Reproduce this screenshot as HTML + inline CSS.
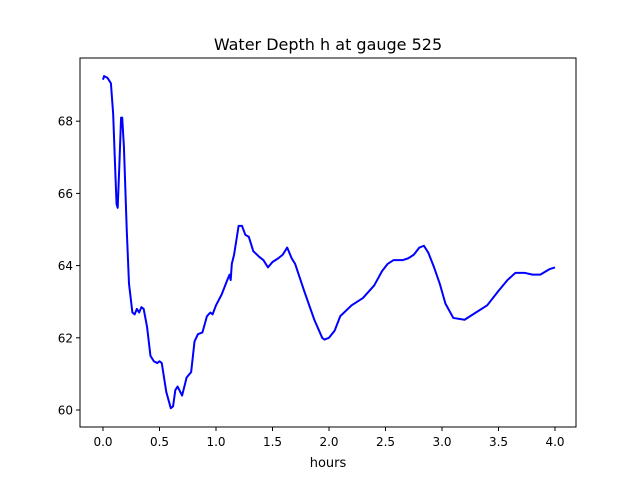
<!DOCTYPE html>
<html><head><meta charset="utf-8"><style>body{margin:0;background:#fff}svg{display:block;font-family:"DejaVu Sans","Liberation Sans",sans-serif}</style></head>
<body>
<svg id="chart" width="640" height="480" xmlns="http://www.w3.org/2000/svg">
<rect width="640" height="480" fill="#fff"/>
<text x="328" y="50" font-size="16" text-anchor="middle">Water Depth h at gauge 525</text>
<g id="plot"></g>
<rect x="80" y="58" width="496" height="369" fill="none" stroke="#000" stroke-width="1"/>
<text x="328" y="467" font-size="13" text-anchor="middle">hours</text>
</svg>
<script>
const hours=[0,0.01,0.04,0.07,0.09,0.11,0.12,0.13,0.145,0.16,0.17,0.185,0.21,0.23,0.26,0.28,0.30,0.32,0.34,0.36,0.39,0.42,0.45,0.48,0.50,0.52,0.56,0.60,0.62,0.64,0.66,0.70,0.74,0.78,0.81,0.84,0.88,0.92,0.95,0.97,1.00,1.05,1.10,1.12,1.13,1.14,1.16,1.20,1.23,1.26,1.29,1.33,1.38,1.42,1.46,1.50,1.55,1.59,1.63,1.67,1.70,1.78,1.87,1.94,1.96,2.00,2.05,2.10,2.20,2.30,2.40,2.47,2.52,2.57,2.65,2.70,2.75,2.80,2.84,2.88,2.93,2.98,3.03,3.10,3.20,3.30,3.40,3.50,3.58,3.65,3.73,3.80,3.87,3.95,4.00];
const depth=[69.15,69.25,69.2,69.05,68.2,66.5,65.7,65.6,66.8,68.1,68.1,67.3,65.0,63.5,62.7,62.65,62.8,62.7,62.85,62.8,62.3,61.5,61.35,61.3,61.35,61.3,60.5,60.05,60.1,60.55,60.65,60.4,60.9,61.05,61.9,62.1,62.15,62.6,62.7,62.65,62.9,63.2,63.6,63.75,63.6,64.05,64.3,65.1,65.1,64.85,64.8,64.4,64.25,64.15,63.95,64.1,64.2,64.3,64.5,64.2,64.05,63.3,62.5,62.0,61.95,62.0,62.2,62.6,62.9,63.1,63.45,63.85,64.05,64.15,64.15,64.2,64.3,64.5,64.55,64.35,63.95,63.5,62.95,62.55,62.5,62.7,62.9,63.3,63.6,63.8,63.8,63.75,63.75,63.9,63.95];
const xTicks=[0,0.5,1,1.5,2,2.5,3,3.5,4];
const xTickLabels=["0.0","0.5","1.0","1.5","2.0","2.5","3.0","3.5","4.0"];
const yTicks=[60,62,64,66,68];
const yTickLabels=["60","62","64","66","68"];
const X=v=>103+v*113, Y=v=>410-(v-60)*36.1;
const NS="http://www.w3.org/2000/svg", g=document.getElementById('plot');
function mk(t,a){const e=document.createElementNS(NS,t);for(const k in a)e.setAttribute(k,a[k]);g.appendChild(e);return e;}
xTicks.forEach((v,i)=>{
 const l=mk('line',{x1:X(v),x2:X(v),y1:427,y2:431,stroke:'#000'});
 
 
 const t=mk('text',{x:X(v),y:446,'font-size':12,'text-anchor':'middle'});t.textContent=xTickLabels[i];
 
 
});
yTicks.forEach((v,i)=>{
 const l=mk('line',{x1:76,x2:80,y1:Y(v),y2:Y(v),stroke:'#000'});
 
 
 const t=mk('text',{x:73,y:Y(v)+4.5,'font-size':12,'text-anchor':'end'});t.textContent=yTickLabels[i];
 
 
});
const p=mk('polyline',{points:hours.map((h,i)=>X(h)+','+Y(depth[i])).join(' '),fill:'none',stroke:'#0000ff','stroke-width':2,'stroke-linejoin':'round'});


</script>
</body></html>
